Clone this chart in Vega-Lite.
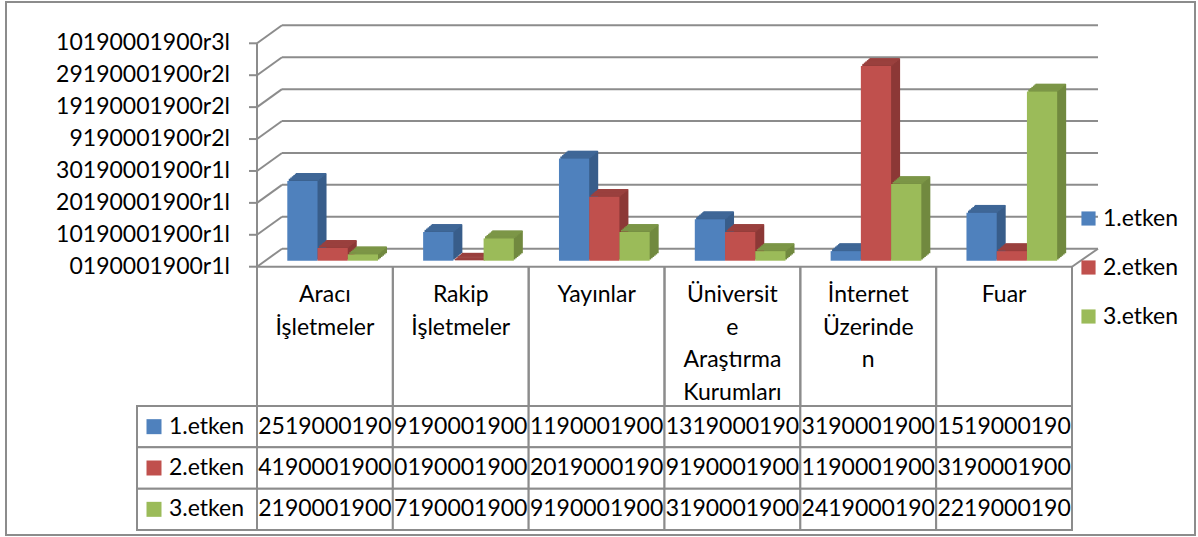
{
  "$schema": "https://vega.github.io/schema/vega-lite/v6.json",
  "width": 1189,
  "height": 533,
  "autosize": {"type": "none"},
  "padding": {"left": 6, "top": 2, "right": 3, "bottom": 2},
  "background": "white",
  "config": {
    "view": {"stroke": "#8c8c8c", "strokeWidth": 2},
    "font": "Lato",
    "text": {"font": "Lato", "fontSize": 23, "color": "#000000"}
  },
  "datasets": {
    "shares": [
      {"cat": "Aracı İşletmeler", "series": "1.etken", "value": 25, "label": "2519000190"},
      {"cat": "Aracı İşletmeler", "series": "2.etken", "value": 4, "label": "4190001900"},
      {"cat": "Aracı İşletmeler", "series": "3.etken", "value": 2, "label": "2190001900"},
      {"cat": "Rakip İşletmeler", "series": "1.etken", "value": 9, "label": "9190001900"},
      {"cat": "Rakip İşletmeler", "series": "2.etken", "value": 0, "label": "0190001900"},
      {"cat": "Rakip İşletmeler", "series": "3.etken", "value": 7, "label": "7190001900"},
      {"cat": "Yayınlar", "series": "1.etken", "value": 32, "label": "1190001900"},
      {"cat": "Yayınlar", "series": "2.etken", "value": 20, "label": "2019000190"},
      {"cat": "Yayınlar", "series": "3.etken", "value": 9, "label": "9190001900"},
      {"cat": "Üniversite Araştırma Kurumları", "series": "1.etken", "value": 13, "label": "1319000190"},
      {"cat": "Üniversite Araştırma Kurumları", "series": "2.etken", "value": 9, "label": "9190001900"},
      {"cat": "Üniversite Araştırma Kurumları", "series": "3.etken", "value": 3, "label": "3190001900"},
      {"cat": "İnternet Üzerinden", "series": "1.etken", "value": 3, "label": "3190001900"},
      {"cat": "İnternet Üzerinden", "series": "2.etken", "value": 61, "label": "1190001900"},
      {"cat": "İnternet Üzerinden", "series": "3.etken", "value": 24, "label": "2419000190"},
      {"cat": "Fuar", "series": "1.etken", "value": 15, "label": "1519000190"},
      {"cat": "Fuar", "series": "2.etken", "value": 3, "label": "3190001900"},
      {"cat": "Fuar", "series": "3.etken", "value": 53, "label": "2219000190"}
    ],
    "categories": [
      {"cat": "Aracı İşletmeler", "header": "Aracı\nİşletmeler"},
      {"cat": "Rakip İşletmeler", "header": "Rakip\nİşletmeler"},
      {"cat": "Yayınlar", "header": "Yayınlar"},
      {"cat": "Üniversite Araştırma Kurumları", "header": "Üniversit\ne\nAraştırma\nKurumları"},
      {"cat": "İnternet Üzerinden", "header": "İnternet\nÜzerinde\nn"},
      {"cat": "Fuar", "header": "Fuar"}
    ],
    "ticks": [
      {"v": 0, "label": "0190001900r1l"},
      {"v": 10, "label": "10190001900r1l"},
      {"v": 20, "label": "20190001900r1l"},
      {"v": 30, "label": "30190001900r1l"},
      {"v": 40, "label": "9190001900r2l"},
      {"v": 50, "label": "19190001900r2l"},
      {"v": 60, "label": "29190001900r2l"},
      {"v": 70, "label": "10190001900r3l"}
    ]
  },
  "data": {"name": "shares"},
  "resolve": {"scale": {"y": "independent"}},
  "layer": [
    {
      "resolve": {"scale": {"xOffset": "independent"}},
      "layer": [
        {
          "data": {"name": "ticks"},
          "mark": {"type": "rule", "color": "#8c8c8c", "strokeWidth": 2, "xOffset": 25, "x2Offset": 26, "yOffset": -18},
          "encoding": {
            "x": {"datum": "Aracı İşletmeler", "type": "nominal", "bandPosition": 0, "axis": null},
            "x2": {"datum": "Fuar", "bandPosition": 1},
            "y": {"field": "v", "type": "quantitative", "axis": null}
          }
        },
        {
          "data": {"name": "ticks"},
          "mark": {"type": "rule", "color": "#8c8c8c", "strokeWidth": 2, "x2Offset": 25, "y2Offset": -18},
          "encoding": {
            "x": {"datum": "Aracı İşletmeler", "type": "nominal", "bandPosition": 0, "axis": null},
            "x2": {"datum": "Aracı İşletmeler", "bandPosition": 0},
            "y": {"field": "v", "type": "quantitative", "axis": null},
            "y2": {"field": "v"}
          }
        },
        {
          "data": {"name": "ticks"},
          "transform": [{"filter": "datum.v === 0"}],
          "mark": {"type": "rule", "color": "#8c8c8c", "strokeWidth": 2, "x2Offset": 26, "y2Offset": -18},
          "encoding": {
            "x": {"datum": "Fuar", "type": "nominal", "bandPosition": 1, "axis": null},
            "x2": {"datum": "Fuar", "bandPosition": 1},
            "y": {"field": "v", "type": "quantitative", "axis": null},
            "y2": {"field": "v"}
          }
        },
        {
          "data": {"name": "ticks"},
          "transform": [{"filter": "datum.v === 0"}],
          "mark": {"type": "rule", "color": "#8c8c8c", "strokeWidth": 2},
          "encoding": {
            "x": {"datum": "Aracı İşletmeler", "type": "nominal", "bandPosition": 0, "axis": null},
            "y": {"datum": 0, "type": "quantitative", "axis": null},
            "y2": {"datum": 70}
          }
        },
        {
          "data": {"name": "ticks"},
          "transform": [{"filter": "datum.v === 0"}],
          "mark": {"type": "rule", "color": "#8c8c8c", "strokeWidth": 2},
          "encoding": {
            "x": {"datum": "Aracı İşletmeler", "type": "nominal", "bandPosition": 0, "axis": null},
            "x2": {"datum": "Fuar", "bandPosition": 1},
            "y": {"field": "v", "type": "quantitative", "axis": null}
          }
        },
        {
          "data": {"name": "ticks"},
          "mark": {"type": "rule", "color": "#8c8c8c", "strokeWidth": 2, "x2Offset": -8},
          "encoding": {
            "x": {"datum": "Aracı İşletmeler", "type": "nominal", "bandPosition": 0, "axis": null},
            "x2": {"datum": "Aracı İşletmeler", "bandPosition": 0},
            "y": {"field": "v", "type": "quantitative", "axis": null}
          }
        },
        {
          "data": {"name": "ticks"},
          "mark": {"type": "text", "font": "Lato", "fontSize": 23, "align": "right", "baseline": "middle", "dx": -27, "color": "#000000"},
          "encoding": {
            "x": {"datum": "Aracı İşletmeler", "type": "nominal", "bandPosition": 0, "axis": null},
            "y": {"field": "v", "type": "quantitative", "axis": null},
            "text": {"field": "label"}
          }
        },
        {
          "data": {"name": "categories"},
          "mark": {"type": "rule", "color": "#8c8c8c", "strokeWidth": 2, "y2Offset": 263.3},
          "encoding": {
            "x": {"field": "cat", "type": "nominal", "bandPosition": 0, "axis": null},
            "y": {"datum": 0, "type": "quantitative", "axis": null},
            "y2": {"datum": 0}
          }
        },
        {
          "data": {"name": "categories"},
          "mark": {"type": "rule", "color": "#8c8c8c", "strokeWidth": 2, "y2Offset": 263.3},
          "encoding": {
            "x": {"field": "cat", "type": "nominal", "bandPosition": 1, "axis": null},
            "y": {"datum": 0, "type": "quantitative", "axis": null},
            "y2": {"datum": 0}
          }
        },
        {
          "data": {"name": "categories"},
          "mark": {"type": "text", "font": "Lato", "fontSize": 23, "align": "center", "baseline": "alphabetic", "lineBreak": "\n", "lineHeight": 32.5, "dy": 35.6, "color": "#000000"},
          "encoding": {
            "x": {"field": "cat", "type": "nominal", "axis": null},
            "y": {"datum": 0, "type": "quantitative", "axis": null},
            "text": {"field": "header"}
          }
        },
        {
          "mark": {"type": "bar", "yOffset": -7.25, "y2Offset": -7.25},
          "encoding": {
            "x": {"field": "cat", "type": "nominal", "axis": null},
            "xOffset": {"field": "series", "type": "nominal", "scale": {"range": [31.8, 122.5], "paddingInner": 0, "paddingOuter": 0}},
            "y": {"field": "value", "type": "quantitative", "axis": null},
            "color": {"condition": [{"test": "datum.series === '1.etken'", "value": "#385d8a"}, {"test": "datum.series === '2.etken'", "value": "#8c3836"}], "value": "#71893f"}
          }
        },
        {
          "mark": {"type": "bar", "yOffset": -8.5, "y2Offset": -8.5},
          "encoding": {
            "x": {"field": "cat", "type": "nominal", "axis": null},
            "xOffset": {"field": "series", "type": "nominal", "scale": {"range": [33.3, 124], "paddingInner": 0, "paddingOuter": 0}},
            "y": {"field": "value", "type": "quantitative", "axis": null},
            "color": {"condition": [{"test": "datum.series === '1.etken'", "value": "#385d8a"}, {"test": "datum.series === '2.etken'", "value": "#8c3836"}], "value": "#71893f"}
          }
        },
        {
          "mark": {"type": "bar", "yOffset": -9.75, "y2Offset": -9.75},
          "encoding": {
            "x": {"field": "cat", "type": "nominal", "axis": null},
            "xOffset": {"field": "series", "type": "nominal", "scale": {"range": [34.8, 125.5], "paddingInner": 0, "paddingOuter": 0}},
            "y": {"field": "value", "type": "quantitative", "axis": null},
            "color": {"condition": [{"test": "datum.series === '1.etken'", "value": "#385d8a"}, {"test": "datum.series === '2.etken'", "value": "#8c3836"}], "value": "#71893f"}
          }
        },
        {
          "mark": {"type": "bar", "yOffset": -11, "y2Offset": -11},
          "encoding": {
            "x": {"field": "cat", "type": "nominal", "axis": null},
            "xOffset": {"field": "series", "type": "nominal", "scale": {"range": [36.3, 127], "paddingInner": 0, "paddingOuter": 0}},
            "y": {"field": "value", "type": "quantitative", "axis": null},
            "color": {"condition": [{"test": "datum.series === '1.etken'", "value": "#385d8a"}, {"test": "datum.series === '2.etken'", "value": "#8c3836"}], "value": "#71893f"}
          }
        },
        {
          "mark": {"type": "bar", "yOffset": -12.25, "y2Offset": -12.25},
          "encoding": {
            "x": {"field": "cat", "type": "nominal", "axis": null},
            "xOffset": {"field": "series", "type": "nominal", "scale": {"range": [37.8, 128.5], "paddingInner": 0, "paddingOuter": 0}},
            "y": {"field": "value", "type": "quantitative", "axis": null},
            "color": {"condition": [{"test": "datum.series === '1.etken'", "value": "#385d8a"}, {"test": "datum.series === '2.etken'", "value": "#8c3836"}], "value": "#71893f"}
          }
        },
        {
          "mark": {"type": "bar", "yOffset": -13.5, "y2Offset": -13.5},
          "encoding": {
            "x": {"field": "cat", "type": "nominal", "axis": null},
            "xOffset": {"field": "series", "type": "nominal", "scale": {"range": [39.3, 130], "paddingInner": 0, "paddingOuter": 0}},
            "y": {"field": "value", "type": "quantitative", "axis": null},
            "color": {"condition": [{"test": "datum.series === '1.etken'", "value": "#385d8a"}, {"test": "datum.series === '2.etken'", "value": "#8c3836"}], "value": "#71893f"}
          }
        },
        {
          "mark": {"type": "tick", "size": 30.2, "thickness": 1.8, "opacity": 1, "yOffset": -7.25},
          "encoding": {
            "x": {"field": "cat", "type": "nominal", "axis": null},
            "xOffset": {"field": "series", "type": "nominal", "scale": {"range": [31.8, 122.5], "paddingInner": 0, "paddingOuter": 0}},
            "y": {"field": "value", "type": "quantitative", "axis": null},
            "color": {"condition": [{"test": "datum.series === '1.etken'", "value": "#3f6797"}, {"test": "datum.series === '2.etken'", "value": "#9a403e"}], "value": "#7c9647"}
          }
        },
        {
          "mark": {"type": "tick", "size": 30.2, "thickness": 1.8, "opacity": 1, "yOffset": -8.5},
          "encoding": {
            "x": {"field": "cat", "type": "nominal", "axis": null},
            "xOffset": {"field": "series", "type": "nominal", "scale": {"range": [33.3, 124], "paddingInner": 0, "paddingOuter": 0}},
            "y": {"field": "value", "type": "quantitative", "axis": null},
            "color": {"condition": [{"test": "datum.series === '1.etken'", "value": "#3f6797"}, {"test": "datum.series === '2.etken'", "value": "#9a403e"}], "value": "#7c9647"}
          }
        },
        {
          "mark": {"type": "tick", "size": 30.2, "thickness": 1.8, "opacity": 1, "yOffset": -9.75},
          "encoding": {
            "x": {"field": "cat", "type": "nominal", "axis": null},
            "xOffset": {"field": "series", "type": "nominal", "scale": {"range": [34.8, 125.5], "paddingInner": 0, "paddingOuter": 0}},
            "y": {"field": "value", "type": "quantitative", "axis": null},
            "color": {"condition": [{"test": "datum.series === '1.etken'", "value": "#3f6797"}, {"test": "datum.series === '2.etken'", "value": "#9a403e"}], "value": "#7c9647"}
          }
        },
        {
          "mark": {"type": "tick", "size": 30.2, "thickness": 1.8, "opacity": 1, "yOffset": -11},
          "encoding": {
            "x": {"field": "cat", "type": "nominal", "axis": null},
            "xOffset": {"field": "series", "type": "nominal", "scale": {"range": [36.3, 127], "paddingInner": 0, "paddingOuter": 0}},
            "y": {"field": "value", "type": "quantitative", "axis": null},
            "color": {"condition": [{"test": "datum.series === '1.etken'", "value": "#3f6797"}, {"test": "datum.series === '2.etken'", "value": "#9a403e"}], "value": "#7c9647"}
          }
        },
        {
          "mark": {"type": "tick", "size": 30.2, "thickness": 1.8, "opacity": 1, "yOffset": -12.25},
          "encoding": {
            "x": {"field": "cat", "type": "nominal", "axis": null},
            "xOffset": {"field": "series", "type": "nominal", "scale": {"range": [37.8, 128.5], "paddingInner": 0, "paddingOuter": 0}},
            "y": {"field": "value", "type": "quantitative", "axis": null},
            "color": {"condition": [{"test": "datum.series === '1.etken'", "value": "#3f6797"}, {"test": "datum.series === '2.etken'", "value": "#9a403e"}], "value": "#7c9647"}
          }
        },
        {
          "mark": {"type": "tick", "size": 30.2, "thickness": 1.8, "opacity": 1, "yOffset": -13},
          "encoding": {
            "x": {"field": "cat", "type": "nominal", "axis": null},
            "xOffset": {"field": "series", "type": "nominal", "scale": {"range": [38.9, 129.6], "paddingInner": 0, "paddingOuter": 0}},
            "y": {"field": "value", "type": "quantitative", "axis": null},
            "color": {"condition": [{"test": "datum.series === '1.etken'", "value": "#3f6797"}, {"test": "datum.series === '2.etken'", "value": "#9a403e"}], "value": "#7c9647"}
          }
        },
        {
          "mark": {"type": "bar", "yOffset": -6, "y2Offset": -6},
          "encoding": {
            "x": {
              "field": "cat",
              "type": "nominal",
              "sort": ["Aracı İşletmeler", "Rakip İşletmeler", "Yayınlar", "Üniversite Araştırma Kurumları", "İnternet Üzerinden", "Fuar"],
              "scale": {"domain": ["Aracı İşletmeler", "Rakip İşletmeler", "Yayınlar", "Üniversite Araştırma Kurumları", "İnternet Üzerinden", "Fuar"], "range": [251, 1066], "paddingInner": 0, "paddingOuter": 0},
              "axis": null
            },
            "xOffset": {"field": "series", "type": "nominal", "scale": {"range": [30.3, 121], "paddingInner": 0, "paddingOuter": 0}},
            "y": {
              "field": "value",
              "type": "quantitative",
              "scale": {"domain": [0, 70], "range": [264.7, 41.3], "nice": false, "zero": true},
              "axis": null
            },
            "color": {
              "field": "series",
              "type": "nominal",
              "scale": {"domain": ["1.etken", "2.etken", "3.etken"], "range": ["#4f81bd", "#c0504d", "#9bbb59"]},
              "legend": {
                "title": null,
                "orient": "none",
                "legendX": 1071,
                "legendY": 205,
                "padding": 0,
                "symbolType": "square",
                "symbolSize": 200,
                "symbolStrokeWidth": 0,
                "labelFont": "Lato",
                "labelFontSize": 23,
                "labelColor": "#000000",
                "labelOffset": 3,
                "rowPadding": 25
              }
            }
          }
        }
      ]
    },
    {
      "layer": [
        {
          "mark": {"type": "rect", "fill": "white", "stroke": "#8c8c8c", "strokeWidth": 2},
          "encoding": {
            "x": {"field": "cat", "type": "nominal", "axis": null},
            "y": {"field": "series", "type": "nominal", "axis": null, "scale": {"domain": ["1.etken", "2.etken", "3.etken"], "range": [404, 528], "paddingInner": 0, "paddingOuter": 0}}
          }
        },
        {
          "transform": [{"filter": "datum.cat === 'Aracı İşletmeler'"}],
          "mark": {"type": "rect", "fill": "white", "stroke": "#8c8c8c", "strokeWidth": 2, "xOffset": -120},
          "encoding": {
            "x": {"datum": "Aracı İşletmeler", "type": "nominal", "bandPosition": 0, "axis": null},
            "x2": {"datum": "Aracı İşletmeler", "bandPosition": 0},
            "y": {"field": "series", "type": "nominal", "axis": null}
          }
        },
        {
          "mark": {"type": "text", "font": "Lato", "fontSize": 23, "baseline": "middle", "align": "center", "color": "#000000"},
          "encoding": {
            "x": {"field": "cat", "type": "nominal", "axis": null},
            "y": {"field": "series", "type": "nominal", "axis": null},
            "text": {"field": "label"}
          }
        },
        {
          "transform": [{"filter": "datum.cat === 'Aracı İşletmeler'"}],
          "mark": {"type": "text", "font": "Lato", "fontSize": 23, "baseline": "middle", "align": "left", "dx": -88, "color": "#000000"},
          "encoding": {
            "x": {"datum": "Aracı İşletmeler", "type": "nominal", "bandPosition": 0, "axis": null},
            "y": {"field": "series", "type": "nominal", "axis": null},
            "text": {"field": "series"}
          }
        },
        {
          "transform": [{"filter": "datum.cat === 'Aracı İşletmeler'"}],
          "mark": {"type": "point", "shape": "square", "filled": true, "opacity": 1, "size": 225, "strokeWidth": 0, "xOffset": -103},
          "encoding": {
            "x": {"datum": "Aracı İşletmeler", "type": "nominal", "bandPosition": 0, "axis": null},
            "y": {"field": "series", "type": "nominal", "axis": null},
            "color": {"field": "series", "type": "nominal"}
          }
        }
      ]
    }
  ]
}
